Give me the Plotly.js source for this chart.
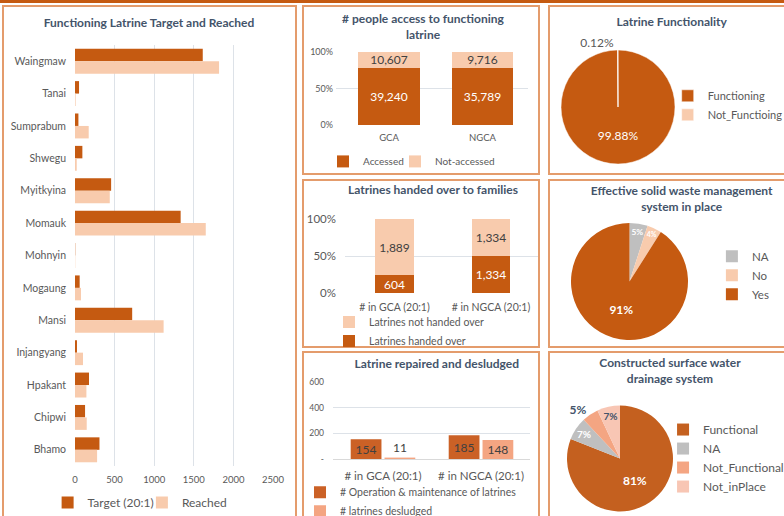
<!DOCTYPE html>
<html><head><meta charset="utf-8">
<script src="https://cdn.plot.ly/plotly-3.0.1.min.js"></script>
<style>
html,body{margin:0;padding:0;width:784px;height:516px;overflow:hidden;background:#fff;}
body{position:relative;}
.plot{position:absolute;left:0;top:0;width:784px;height:516px;}
.box{position:absolute;border:2px solid #E49C6C;box-sizing:border-box;}
.topbar{position:absolute;left:0;top:0;width:784px;height:3px;background:#C55A11;}
</style></head><body>
<div class="topbar"></div>
<div class="box" style="left:2px;top:5px;width:295px;height:530px"></div>
<div class="box" style="left:302px;top:5px;width:238px;height:170px"></div>
<div class="box" style="left:302px;top:179px;width:238px;height:169px"></div>
<div class="box" style="left:302px;top:351px;width:238px;height:180px"></div>
<div class="box" style="left:548px;top:5px;width:250px;height:170px"></div>
<div class="box" style="left:548px;top:179px;width:250px;height:169px"></div>
<div class="box" style="left:548px;top:351px;width:250px;height:180px"></div>
<div id="p1" class="plot"></div>
<div id="p2" class="plot"></div>
<div id="p3" class="plot"></div>
<div id="p4" class="plot"></div>
<div id="p5" class="plot"></div>
<div id="p6" class="plot"></div>
<div id="p7" class="plot"></div>
<script>
// ---------------- DATA ----------------
const districts = ['Waingmaw','Tanai','Sumprabum','Shwegu','Myitkyina','Momauk','Mohnyin','Mogaung','Mansi','Injangyang','Hpakant','Chipwi','Bhamo'];
const targetVals  = [1613, 51, 43, 93, 456, 1334, 3, 59, 722, 25, 177, 127, 309];
const reachedVals = [1819, 8, 173, 22, 439, 1651, 3, 76, 1119, 101, 144, 148, 279];
const xTicks1 = [0, 500, 1000, 1500, 2000, 2500];

const pctTicks = [0, 50, 100];
const pctTickText = ['0%', '50%', '100%'];

const areas = ['GCA', 'NGCA'];
const accessed = [39240, 35789];
const notAccessed = [10607, 9716];

const handoverCats = ['# in GCA (20:1)', '# in NGCA (20:1)'];
const handedOver = [604, 1334];
const notHandedOver = [1889, 1334];

const repairCats = ['# in GCA (20:1)', '# in NGCA (20:1)'];
const omVals = [154, 185];
const desludgedVals = [11, 148];
const yTicks4 = [0, 200, 400, 600];
const yTickText4 = ['-', '200', '400', '600'];

const funcLabels = ['Functioning', 'Not_Functioing'];
const funcVals = [99.88, 0.12];
const swmLabels = ['NA', 'No', 'Yes'];
const swmVals = [5, 4, 91];
const drainLabels = ['Functional', 'NA', 'Not_Functional', 'Not_inPlace'];
const drainVals = [81, 7, 5, 7];

// ---------------- STYLE ----------------
const FONT = 'Lato, "Open Sans", sans-serif';
const TITLE_C = '#44546A', TICK_C = '#595959', TXT_DARK = '#404040';
const DARK = '#C55A11', LIGHT = '#F8CBAD', GREY = '#BFBFBF', SALMON = '#F4A582', PINK = '#F8C6B4';
const GRID = '#DDE2E8';
const cfg = {staticPlot: true};
const fmt = v => v.toLocaleString('en-US');

function base(rect) {
  return {
    width: 784, height: 516,
    margin: {l: rect[0], r: 784 - rect[1], t: rect[2], b: 516 - rect[3], pad: 0, autoexpand: false},
    paper_bgcolor: 'rgba(0,0,0,0)', plot_bgcolor: 'rgba(0,0,0,0)',
    font: {family: FONT, color: TICK_C, size: 10},
    hovermode: false, showlegend: true
  };
}
function title(text, cx, cy, size) {
  return {text: text, x: cx / 784, y: 1 - cy / 516, xref: 'container', yref: 'container',
          xanchor: 'center', yanchor: 'middle',
          font: {family: FONT, size: size || 12, color: TITLE_C, weight: 'bold'}};
}
// px = x of legend text start - 40, py = centre of first item - 10
function legendAt(rect, px, py, extra) {
  const w = rect[1] - rect[0], h = rect[3] - rect[2];
  return Object.assign({x: (px - rect[0]) / w, y: (rect[3] - py) / h, xanchor: 'left', yanchor: 'top',
    bgcolor: 'rgba(0,0,0,0)', visible: true, font: {family: FONT, size: 10.5, color: TICK_C}}, extra || {});
}

// ---------------- PANEL 1 ----------------
(function () {
  const r = [75.3, 272.7, 45, 466];
  const L = base(r);
  L.title = title('Functioning Latrine Target and Reached', 149, 23, 12);
  L.barmode = 'group'; L.bargap = 0.23; L.bargroupgap = 0;
  L.xaxis = {range: [0, 2500], tickvals: xTicks1, showgrid: true, gridcolor: GRID, zeroline: false,
             showline: false, ticks: '', tickfont: {size: 9.5, color: TICK_C}, ticklabelstandoff: 6};
  L.yaxis = {type: 'category', categoryorder: 'array', categoryarray: districts, autorange: 'reversed',
             showgrid: false, zeroline: false, showline: false, ticks: '',
             tickfont: {size: 10.5, color: TICK_C}, ticklabelstandoff: 8};
  const lf = {family: FONT, size: 12, color: TICK_C};
  L.legend = legendAt(r, 48, 488, {orientation: 'h', font: lf});
  L.legend2 = legendAt(r, 142, 488, {orientation: 'h', font: lf});
  Plotly.newPlot('p1', [
    {type: 'bar', orientation: 'h', name: 'Target (20:1)', y: districts, x: targetVals, marker: {color: DARK}, showlegend: true},
    {type: 'bar', orientation: 'h', name: 'Reached', y: districts, x: reachedVals, marker: {color: LIGHT}, legend: 'legend2', showlegend: true}
  ], L, cfg);
})();

// ---------------- PANEL 2 ----------------
(function () {
  const r = [336, 528, 51.7, 125];
  const L = base(r);
  L.title = title('# people access to functioning<br>latrine', 423, 23, 12);
  L.barmode = 'stack'; L.barnorm = 'percent'; L.bargap = 0.34;
  L.xaxis = {type: 'category', range: [-0.567, 1.487], showgrid: false, zeroline: false, showline: false,
             ticks: '', tickfont: {size: 9.5, color: TICK_C}, ticklabelstandoff: 5};
  L.yaxis = {range: [0, 100], tickvals: pctTicks, ticktext: pctTickText, showgrid: true, gridcolor: GRID,
             zeroline: false, showline: false, ticks: '', tickfont: {size: 9, color: TICK_C}, ticklabelstandoff: 2};
  const lf = {family: FONT, size: 10, color: TICK_C};
  L.legend = legendAt(r, 323, 147, {orientation: 'h', font: lf});
  L.legend2 = legendAt(r, 395, 147, {orientation: 'h', font: lf});
  Plotly.newPlot('p2', [
    {type: 'bar', name: 'Accessed', x: areas, y: accessed, marker: {color: DARK}, showlegend: true,
     text: accessed.map(fmt), textposition: 'inside', insidetextanchor: 'middle', constraintext: 'none',
     textfont: {size: 12, color: '#FFFFFF'}},
    {type: 'bar', name: 'Not-accessed', x: areas, y: notAccessed, marker: {color: LIGHT}, legend: 'legend2', showlegend: true,
     text: notAccessed.map(fmt), textposition: 'inside', insidetextanchor: 'middle', constraintext: 'none',
     textfont: {size: 12, color: TXT_DARK}}
  ], L, cfg);
})();

// ---------------- PANEL 3 ----------------
(function () {
  const r = [345, 538, 219.3, 292.7];
  const L = base(r);
  L.title = title('Latrines handed over to families', 433, 190, 12);
  L.barmode = 'stack'; L.barnorm = 'percent'; L.bargap = 0.6;
  L.xaxis = {type: 'category', range: [-0.513, 1.487], showgrid: false, zeroline: false, showline: false,
             ticks: '', tickfont: {size: 10.5, color: TICK_C}, ticklabelstandoff: 6};
  L.yaxis = {range: [0, 100], tickvals: pctTicks, ticktext: pctTickText, showgrid: true, gridcolor: GRID,
             zeroline: false, showline: false, ticks: '', tickfont: {size: 11.5, color: TICK_C}, ticklabelstandoff: 8};
  L.legend = legendAt(r, 329, 307, {orientation: 'v', traceorder: 'reversed', font: {family: FONT, size: 10.5, color: TICK_C}});
  Plotly.newPlot('p3', [
    {type: 'bar', name: 'Latrines handed over', x: handoverCats, y: handedOver, marker: {color: DARK},
     text: handedOver.map(fmt), textposition: 'inside', insidetextanchor: 'middle', constraintext: 'none',
     textfont: {size: 12, color: '#FFFFFF'}},
    {type: 'bar', name: 'Latrines not handed over', x: handoverCats, y: notHandedOver, marker: {color: LIGHT},
     text: notHandedOver.map(fmt), textposition: 'inside', insidetextanchor: 'middle', constraintext: 'none',
     textfont: {size: 12, color: TXT_DARK}}
  ], L, cfg);
})();

// ---------------- PANEL 4 ----------------
(function () {
  const r = [333, 530, 382.3, 459.3];
  const L = base(r);
  L.title = title('Latrine repaired and desludged', 436.7, 363.3, 12);
  L.barmode = 'group'; L.bargap = 0.31; L.bargroupgap = 0.09;
  L.xaxis = {type: 'category', range: [-0.51, 1.5], showgrid: false, zeroline: false, showline: true,
             linecolor: '#D9D9D9', ticks: '', tickfont: {size: 11.5, color: TICK_C}, ticklabelstandoff: 6};
  L.yaxis = {range: [0, 600], tickvals: yTicks4, ticktext: yTickText4, showgrid: true, gridcolor: GRID,
             zeroline: false, showline: false, ticks: '', tickfont: {size: 8.5, color: TICK_C}, ticklabelstandoff: 8};
  L.legend = legendAt(r, 300, 478, {orientation: 'v', traceorder: 'normal', font: {family: FONT, size: 10.5, color: TICK_C}});
  Plotly.newPlot('p4', [
    {type: 'bar', name: '# Operation & maintenance of latrines', x: repairCats, y: omVals, marker: {color: '#CB6126'},
     text: omVals.map(fmt), textposition: 'inside', insidetextanchor: 'middle', constraintext: 'none',
     textfont: {size: 12, color: TXT_DARK}, cliponaxis: false},
    {type: 'bar', name: '# latrines desludged', x: repairCats, y: desludgedVals, marker: {color: SALMON},
     text: desludgedVals.map(fmt), textposition: ['outside', 'inside'], insidetextanchor: 'middle', constraintext: 'none',
     textfont: {size: 12, color: TXT_DARK}, cliponaxis: false}
  ], L, cfg);
})();

// ---------------- PANEL 5 ----------------
(function () {
  const r = [561.3, 675.3, 49.7, 163.7];
  const L = base(r);
  L.title = title('Latrine Functionality', 671.7, 22, 12);
  L.legend = legendAt(r, 668, 81, {orientation: 'v', font: {family: FONT, size: 11, color: TICK_C}});
  Plotly.newPlot('p5', [
    {type: 'pie', labels: funcLabels, values: funcVals, sort: false, direction: 'clockwise', rotation: 0,
     marker: {colors: [DARK, LIGHT], line: {color: '#FFFFFF', width: 0.5}},
     texttemplate: '%{percent:.2%}', textposition: ['inside', 'outside'], insidetextorientation: 'horizontal',
     textfont: {size: 12, color: ['#FFFFFF', TICK_C]}, automargin: false}
  ], L, cfg);
})();

// ---------------- PANEL 6 ----------------
(function () {
  const r = [570.8, 687.8, 223.2, 340.2];
  const L = base(r);
  L.title = title('Effective solid waste management<br>system in place', 681.7, 195, 12);
  L.legend = legendAt(r, 711.7, 242, {orientation: 'v', font: {family: FONT, size: 11.5, color: TICK_C}});
  Plotly.newPlot('p6', [
    {type: 'pie', labels: swmLabels, values: swmVals, sort: false, direction: 'clockwise', rotation: 0,
     marker: {colors: [GREY, LIGHT, DARK], line: {width: 0}},
     texttemplate: '%{percent:.0%}', textposition: 'inside', insidetextorientation: 'horizontal',
     textfont: {size: 12, color: '#FFFFFF', weight: 'bold'}, automargin: false}
  ], L, cfg);
})();

// ---------------- PANEL 7 ----------------
(function () {
  const r = [566.7, 673.3, 405, 511.6];
  const L = base(r);
  L.title = title('Constructed surface water<br>drainage system', 670, 367, 12);
  L.legend = legendAt(r, 663.3, 415, {orientation: 'v', font: {family: FONT, size: 12, color: TICK_C}});
  Plotly.newPlot('p7', [
    {type: 'pie', labels: drainLabels, values: drainVals, sort: false, direction: 'clockwise', rotation: 0,
     marker: {colors: ['#C4601F', GREY, SALMON, PINK], line: {width: 0}},
     texttemplate: '%{percent:.0%}', textposition: ['inside', 'inside', 'outside', 'inside'],
     insidetextorientation: 'horizontal',
     textfont: {size: 12, color: ['#FFFFFF', '#FFFFFF', TITLE_C, TITLE_C], weight: 'bold'}, automargin: false}
  ], L, cfg);
})();
</script>
</body></html>
